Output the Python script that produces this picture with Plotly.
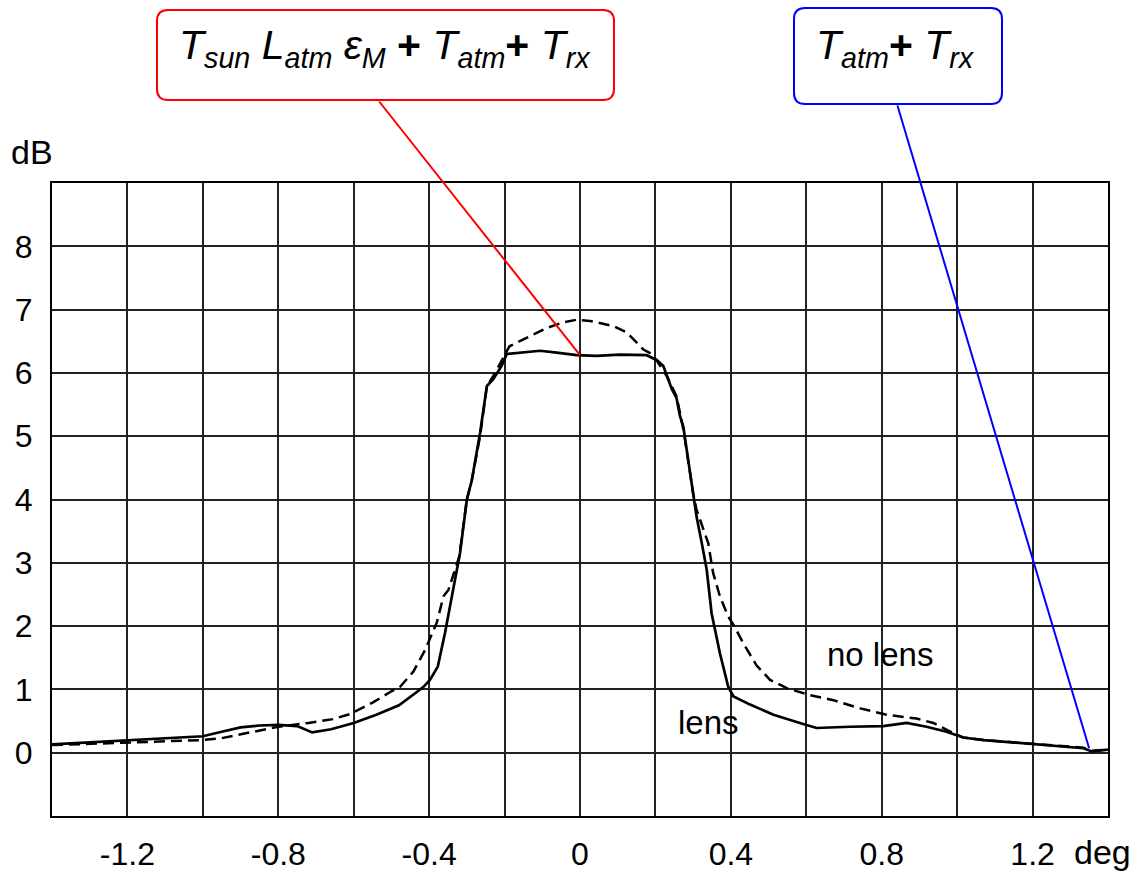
import plotly.graph_objects as go

# ---- data ----
lens_x = [-1.40, -1.30, -1.20, -1.10, -1.00, -0.95, -0.90, -0.85, -0.80, -0.75, -0.71, -0.66, -0.60,
          -0.54, -0.48, -0.43, -0.415, -0.398, -0.377, -0.358, -0.345, -0.331, -0.318, -0.30, -0.287,
          -0.265, -0.247, -0.23, -0.208, -0.194, -0.14, -0.106, -0.062, -0.009, 0.044, 0.106, 0.177,
          0.204, 0.221, 0.23, 0.243, 0.256, 0.265, 0.274, 0.287, 0.30, 0.309, 0.323, 0.336, 0.349,
          0.371, 0.393, 0.407, 0.451, 0.513, 0.583, 0.627, 0.716, 0.804, 0.866, 0.919, 0.972, 1.016,
          1.07, 1.158, 1.246, 1.335, 1.357, 1.40]
lens_y = [0.13, 0.16, 0.19, 0.22, 0.26, 0.33, 0.40, 0.43, 0.44, 0.42, 0.32, 0.37, 0.47,
          0.60, 0.75, 0.97, 1.04, 1.15, 1.36, 1.89, 2.31, 2.75, 3.16, 4.0, 4.3,
          5.05, 5.79, 5.9, 6.11, 6.30, 6.33, 6.35, 6.32, 6.28, 6.27, 6.29, 6.28,
          6.20, 6.11, 5.95, 5.75, 5.6, 5.32, 5.15, 4.6, 4.03, 3.73, 3.31, 2.89, 2.2,
          1.57, 1.04, 0.89, 0.76, 0.60, 0.47, 0.39, 0.41, 0.42, 0.47, 0.41, 0.33, 0.24,
          0.20, 0.16, 0.12, 0.07, 0.02, 0.05]

nolens_x = [-1.40, -1.30, -1.20, -1.10, -1.00, -0.95, -0.875, -0.80, -0.72, -0.655, -0.61, -0.55,
            -0.50, -0.477, -0.442, -0.411, -0.38, -0.362, -0.349, -0.34, -0.32, -0.30, -0.287,
            -0.265, -0.247, -0.23, -0.208, -0.187, -0.15, -0.124, -0.088, -0.044, -0.009, 0.027,
            0.089, 0.124, 0.168, 0.19, 0.203, 0.23, 0.256, 0.274, 0.287, 0.30, 0.309, 0.34, 0.353,
            0.371, 0.393, 0.407, 0.433, 0.468, 0.504, 0.548, 0.61, 0.672, 0.743, 0.813, 0.892,
            0.937, 0.99, 1.016, 1.07, 1.158, 1.246, 1.335, 1.357, 1.40]
nolens_y = [0.12, 0.14, 0.16, 0.18, 0.20, 0.23, 0.32, 0.41, 0.47, 0.53, 0.61, 0.79,
            0.97, 1.04, 1.28, 1.62, 2.05, 2.47, 2.57, 2.73, 3.1, 4.0, 4.3,
            5.0, 5.79, 5.95, 6.2, 6.42, 6.53, 6.61, 6.71, 6.80, 6.84, 6.82,
            6.74, 6.64, 6.37, 6.30, 6.2, 5.95, 5.63, 5.11, 4.6, 4.1, 3.84, 3.31, 2.84,
            2.47, 2.15, 2.02, 1.73, 1.38, 1.15, 1.02, 0.91, 0.83, 0.70, 0.60, 0.54,
            0.47, 0.31, 0.24, 0.20, 0.16, 0.12, 0.08, 0.03, 0.05]

x_tickvals = [-1.4, -1.2, -1.0, -0.8, -0.6, -0.4, -0.2, 0.0, 0.2, 0.4, 0.6, 0.8, 1.0, 1.2, 1.4]
x_ticktext = ["", "-1.2", "", "-0.8", "", "-0.4", "", "0", "", "0.4", "", "0.8", "", "1.2", ""]
y_tickvals = [0, 1, 2, 3, 4, 5, 6, 7, 8]
y_ticktext = ["0", "1", "2", "3", "4", "5", "6", "7", "8"]

red_point = (0.0, 6.28)
blue_point = (1.35, 0.07)

FONT = "Liberation Sans, Arial, sans-serif"
W, H = 1134, 873
L, R, T, B = 52, 26, 183, 57
PW, PH = W - L - R, H - T - B


def px2paper(px, py):
    return (px - L) / PW, (H - B - py) / PH


def rounded_box(x0, y0, x1, y1, r=11):
    def p(x, y):
        a, b = px2paper(x, y)
        return f"{a:.5f},{b:.5f}"
    return (f"M {p(x0 + r, y0)} L {p(x1 - r, y0)} Q {p(x1, y0)} {p(x1, y0 + r)} "
            f"L {p(x1, y1 - r)} Q {p(x1, y1)} {p(x1 - r, y1)} "
            f"L {p(x0 + r, y1)} Q {p(x0, y1)} {p(x0, y1 - r)} "
            f"L {p(x0, y0 + r)} Q {p(x0, y0)} {p(x0 + r, y0)} Z")


def sub(s):
    return f"<sub><i>{s}</i></sub>"


fig = go.Figure()
fig.add_trace(go.Scatter(x=nolens_x, y=nolens_y, mode="lines", name="no lens",
                         line=dict(color="black", width=2.5, dash="11px,6px")))
fig.add_trace(go.Scatter(x=lens_x, y=lens_y, mode="lines", name="lens",
                         line=dict(color="black", width=2.7)))

grid = dict(showgrid=True, gridcolor="#222222", gridwidth=1.5, zeroline=False,
            showline=True, linecolor="black", linewidth=2, mirror=True, ticks="",
            automargin=False, tickfont=dict(family=FONT, size=32, color="black"))

fig.update_xaxes(range=[-1.4, 1.4], tickmode="array", tickvals=x_tickvals, ticktext=x_ticktext,
                 ticklabelstandoff=9, **grid)
fig.update_yaxes(range=[-1, 9], tickmode="array", tickvals=y_tickvals, ticktext=y_ticktext,
                 ticklabelstandoff=11, **grid)

shapes = [
    dict(type="path", xref="paper", yref="paper", path=rounded_box(157, 10, 614, 100),
         line=dict(color="#ff0000", width=2), fillcolor="white", layer="above"),
    dict(type="path", xref="paper", yref="paper", path=rounded_box(794, 8, 1002, 104),
         line=dict(color="#0000ff", width=2), fillcolor="white", layer="above"),
]

red_tip_px = (L + (red_point[0] + 1.4) / 2.8 * PW, T + (9 - red_point[1]) / 10 * PH)
blue_tip_px = (L + (blue_point[0] + 1.4) / 2.8 * PW, T + (9 - blue_point[1]) / 10 * PH)

annotations = [
    dict(x=red_point[0], y=red_point[1], xref="x", yref="y", text="", showarrow=True,
         arrowhead=0, arrowwidth=2, arrowcolor="#ff0000", standoff=0,
         ax=378 - red_tip_px[0], ay=100 - red_tip_px[1]),
    dict(x=blue_point[0], y=blue_point[1], xref="x", yref="y", text="", showarrow=True,
         arrowhead=0, arrowwidth=2, arrowcolor="#0000ff", standoff=0,
         ax=897 - blue_tip_px[0], ay=104 - blue_tip_px[1]),
    dict(x=px2paper(385, 48)[0], y=px2paper(385, 48)[1], xref="paper", yref="paper",
         text=("<i>T</i>" + sub("sun") + " <i>L</i>" + sub("atm") + " <i>ε</i>" + sub("M")
               + " <b>+</b> <i>T</i>" + sub("atm") + "<b>+</b> <i>T</i>" + sub("rx")),
         showarrow=False, xanchor="center", yanchor="middle",
         font=dict(family=FONT, size=41, color="black")),
    dict(x=px2paper(895, 48)[0], y=px2paper(895, 48)[1], xref="paper", yref="paper",
         text="<i>T</i>" + sub("atm") + "<b>+</b> <i>T</i>" + sub("rx"),
         showarrow=False, xanchor="center", yanchor="middle",
         font=dict(family=FONT, size=41, color="black")),
    dict(x=px2paper(32, 152)[0], y=px2paper(32, 152)[1], xref="paper", yref="paper",
         text="dB", showarrow=False, xanchor="center", yanchor="middle",
         font=dict(family=FONT, size=34, color="black")),
    dict(x=px2paper(1102, 852)[0], y=px2paper(1102, 852)[1], xref="paper", yref="paper",
         text="deg", showarrow=False, xanchor="center", yanchor="middle",
         font=dict(family=FONT, size=34, color="black")),
    dict(x=0.795, y=1.55, xref="x", yref="y", text="no lens", showarrow=False,
         xanchor="center", yanchor="middle", font=dict(family=FONT, size=33, color="black")),
    dict(x=0.34, y=0.48, xref="x", yref="y", text="lens", showarrow=False,
         xanchor="center", yanchor="middle", font=dict(family=FONT, size=33, color="black")),
]

fig.update_layout(width=W, height=H, margin=dict(l=L, r=R, t=T, b=B),
                  paper_bgcolor="white", plot_bgcolor="white", showlegend=False,
                  shapes=shapes, annotations=annotations)

fig.write_html("out.html")
